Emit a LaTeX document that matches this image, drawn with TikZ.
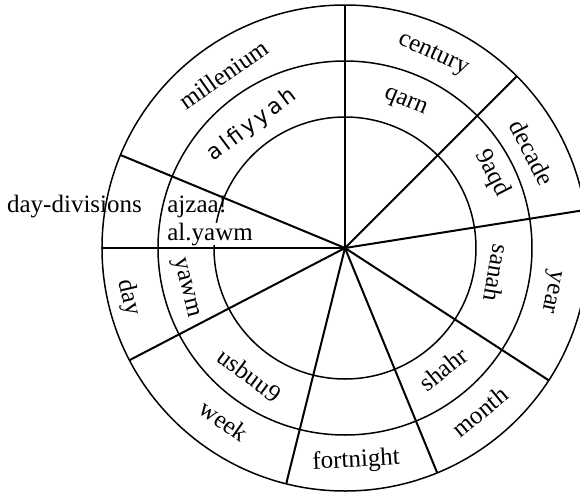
\documentclass[tikz,border=0pt]{standalone}
\usepackage{fontspec}
\setmainfont{Liberation Serif}
\newfontfamily\alffont[LetterSpace=14]{DejaVu Sans}
\usetikzlibrary{positioning}

\begin{document}
\begin{tikzpicture}[
    x=0.5pt, y=0.5pt,
    font=\fontsize{12.5}{14}\selectfont,
    ring/.style={line width=0.75pt},
    spoke/.style={line width=1pt},
    lbl/.style={inner sep=0pt},
    blank/.style={lbl, fill=white}
  ]
  \useasboundingbox (-345,-246) rectangle (235,248);
  \clip (-345,-246) rectangle (235,248);

  \coordinate (c) at (0,0);

  % Rings
  \draw[ring] (c) circle[radius=243];
  \draw[ring] (c) circle[radius=187];
  \draw[ring] (c) circle[radius=131];

  % Spokes
  \foreach \a [count=\i] in {90,45,9,-33,-67.7,-104,207.5,180,157.5}
    \coordinate (s\i) at (\a:243);
  \foreach \i in {1,...,9}
    \draw[spoke] (c) -- (s\i);

  % Outer ring
  \node[lbl, rotate=35]    (mill)  at (125:212)  {millenium};
  \node[lbl, rotate=-24.5] (cent)  at (65.5:212) {century};
  \node[lbl, rotate=-63]   (dec)   at (27:210)   {decade};
  \node[lbl, rotate=-102]  (yr)    at (-12:210)  {year};
  \node[lbl, rotate=39.5]  (mon)   at (-50.5:212) {month};
  \node[lbl, rotate=3]     (fort)  at (-87:213)  {fortnight};
  \node[lbl, rotate=-35]   (wk)    at (235:211)  {week};
  \node[lbl, rotate=-77]   (dy)    at (193:222)  {day};

  % Middle ring
  \node[lbl, rotate=37, font=\alffont\fontsize{11}{13}\selectfont] (alf) at (127:154) {alfiyyah};
  \node[lbl, rotate=-22.5] (qarn)  at (67.5:157) {qarn};
  \node[lbl, rotate=-63]   (aqd)   at (27:165)   {9aqd};
  \node[lbl, rotate=-99.5] (san)   at (-9.5:154) {sanah};
  \node[lbl, rotate=39]    (shahr) at (-51:156)  {shahr};
  \node[lbl, rotate=-37]   (usb)   at (233:159)  {usbuu9};
  \node[lbl, rotate=-76]   (yawm)  at (194:165)  {yawm};

  % Day divisions
  \node[lbl, anchor=base] (divs) at (-270.5,36) {day-divisions};
  \node[lbl, anchor=base west] (ajz) at (-178,36) {ajzaa!};
  \node[blank, anchor=base west] (aly) at (-178,8) {al.yawm};

\end{tikzpicture}
\end{document}
